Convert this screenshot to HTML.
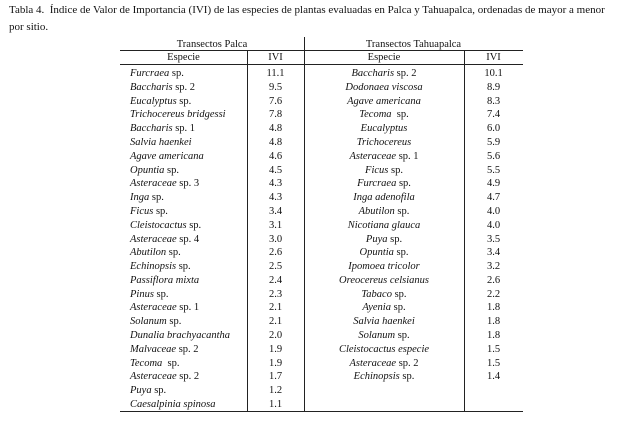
<!DOCTYPE html>
<html><head><meta charset="utf-8"><style>
body{margin:0;width:637px;height:424px;background:#fff;position:relative;overflow:hidden;font-family:"Liberation Serif",serif;color:#111;font-size:10.5px}
.a{position:absolute;white-space:nowrap;line-height:14px}
.h{position:absolute;background:#222;height:1px}
.v{position:absolute;background:#222;width:1px}
i{font-style:italic}
</style></head><body>
<div class="a" style="left:9px;top:3px;font-size:11px">Tabla 4.&nbsp; Índice de Valor de Importancia (IVI) de las especies de plantas evaluadas en Palca y Tahuapalca, ordenadas de mayor a menor</div>
<div class="a" style="left:9px;top:20px;font-size:11px">por sitio.</div>
<div class="v" style="left:304px;top:37px;height:374px"></div>
<div class="v" style="left:247px;top:50px;height:361px"></div>
<div class="v" style="left:464px;top:50px;height:361px"></div>
<div class="h" style="left:120px;top:50px;width:403px"></div>
<div class="h" style="left:120px;top:64px;width:403px"></div>
<div class="h" style="left:120px;top:411px;width:403px"></div>
<div class="a" style="left:120px;width:184px;text-align:center;top:38px">Transectos Palca</div>
<div class="a" style="left:304px;width:219px;text-align:center;top:38px">Transectos Tahuapalca</div>
<div class="a" style="left:120px;width:127px;text-align:center;top:51px">Especie</div>
<div class="a" style="left:247px;width:57px;text-align:center;top:51px">IVI</div>
<div class="a" style="left:304px;width:160px;text-align:center;top:51px">Especie</div>
<div class="a" style="left:464px;width:59px;text-align:center;top:51px">IVI</div>
<div id="rows"></div>
<script>
var L=[["<i>Furcraea</i> sp.","11.1"],["<i>Baccharis</i> sp. 2","9.5"],["<i>Eucalyptus</i> sp.","7.6"],["<i>Trichocereus bridgessi</i>","7.8"],["<i>Baccharis</i> sp. 1","4.8"],["<i>Salvia haenkei</i>","4.8"],["<i>Agave americana</i>","4.6"],["<i>Opuntia</i> sp.","4.5"],["<i>Asteraceae</i> sp. 3","4.3"],["<i>Inga</i> sp.","4.3"],["<i>Ficus</i> sp.","3.4"],["<i>Cleistocactus</i> sp.","3.1"],["<i>Asteraceae</i> sp. 4","3.0"],["<i>Abutilon</i> sp.","2.6"],["<i>Echinopsis</i> sp.","2.5"],["<i>Passiflora mixta</i>","2.4"],["<i>Pinus</i> sp.","2.3"],["<i>Asteraceae</i> sp. 1","2.1"],["<i>Solanum</i> sp.","2.1"],["<i>Dunalia brachyacantha</i>","2.0"],["<i>Malvaceae</i> sp. 2","1.9"],["<i>Tecoma</i>&nbsp; sp.","1.9"],["<i>Asteraceae</i> sp. 2","1.7"],["<i>Puya</i> sp.","1.2"],["<i>Caesalpinia spinosa</i>","1.1"]];
var R=[["<i>Baccharis</i> sp. 2","10.1"],["<i>Dodonaea viscosa</i>","8.9"],["<i>Agave americana</i>","8.3"],["<i>Tecoma</i>&nbsp; sp.","7.4"],["<i>Eucalyptus</i>","6.0"],["<i>Trichocereus</i>","5.9"],["<i>Asteraceae</i> sp. 1","5.6"],["<i>Ficus</i> sp.","5.5"],["<i>Furcraea</i> sp.","4.9"],["<i>Inga adenofila</i>","4.7"],["<i>Abutilon</i> sp.","4.0"],["<i>Nicotiana glauca</i>","4.0"],["<i>Puya</i> sp.","3.5"],["<i>Opuntia</i> sp.","3.4"],["<i>Ipomoea tricolor</i>","3.2"],["<i>Oreocereus celsianus</i>","2.6"],["<i>Tabaco</i> sp.","2.2"],["<i>Ayenia</i> sp.","1.8"],["<i>Salvia haenkei</i>","1.8"],["<i>Solanum</i> sp.","1.8"],["<i>Cleistocactus especie</i>","1.5"],["<i>Asteraceae</i> sp. 2","1.5"],["<i>Echinopsis</i> sp.","1.4"]];
var h="",p=(404-73)/24;
L.forEach(function(r,i){var t=67+i*p;h+='<div class="a" style="left:130px;top:'+t+'px">'+r[0]+'</div><div class="a" style="left:247px;width:57px;text-align:center;top:'+t+'px">'+r[1]+'</div>';});
R.forEach(function(r,i){var t=67+i*p;h+='<div class="a" style="left:304px;width:160px;text-align:center;top:'+t+'px">'+r[0]+'</div><div class="a" style="left:464px;width:59px;text-align:center;top:'+t+'px">'+r[1]+'</div>';});
document.getElementById('rows').innerHTML=h;
</script>
</body></html>
